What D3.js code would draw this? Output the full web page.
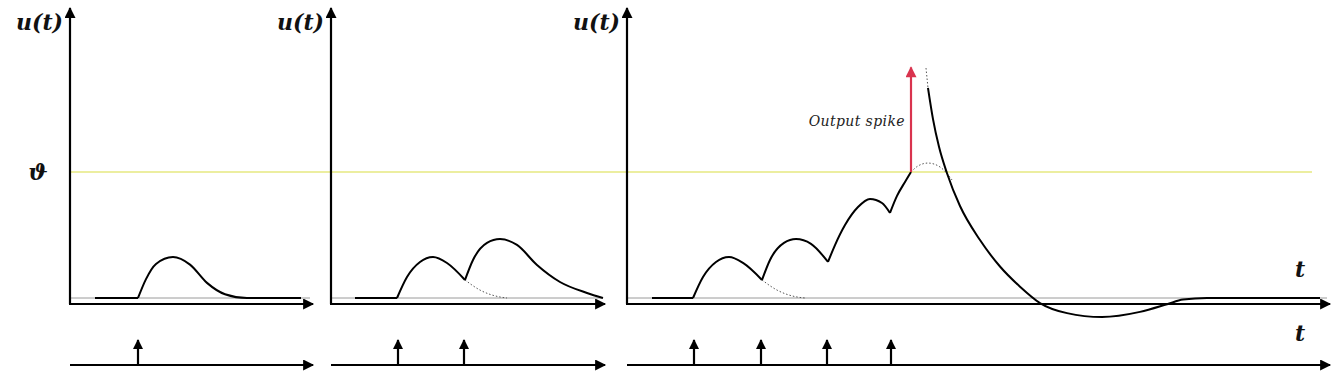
<!DOCTYPE html>
<html><head><meta charset="utf-8">
<script src="https://cdn.jsdelivr.net/npm/d3@7/dist/d3.min.js"></script>
<style>body{margin:0;background:#fff}svg{display:block}</style>
</head><body>
<svg id="c" width="1332" height="378"></svg>
<script>
// ---------- data (time in ms, potential in units of threshold) ----------
const panelNames = ["single", "double", "fire"];
const panelTmax = [24.3, 27.4, 70.3];
const threshold = 1.0;
const spikeTop = 1.83;
const inputSpikes1 = [6.8];
const inputSpikes2 = [6.7, 13.3];
const inputSpikes3 = [6.7, 13.4, 20.0, 26.4];

// panel 1 trace segments
const p1Rest = [[2.5,0],[6.8,0]];
const p1Bump = [[6.8,0],[7.6,0.15],[8.6,0.27],[10.3,0.325],[12.0,0.265],[13.7,0.12],[15.5,0.03],[17.7,0],[23.1,0]];
// panel 2
const p2Rest = [[2.4,0],[6.6,0]];
const p2Bump1 = [[6.6,0],[7.6,0.167],[8.9,0.286],[10.2,0.325],[11.6,0.278],[13.4,0.143]];
const p2Bump2 = [[13.4,0.143],[14.2,0.302],[15.6,0.437],[16.9,0.468],[18.6,0.421],[20.6,0.262],[22.9,0.127],[25.6,0.04],[27.2,0]];
const p2Ghost = [[13.4,0.143],[14.9,0.063],[16.9,0.008],[17.6,0]];
// panel 3
const p3Rest = [[2.5,0],[6.6,0]];
const p3Bump1 = [[6.6,0],[7.6,0.167],[8.9,0.286],[10.2,0.325],[11.6,0.278],[13.5,0.143]];
const p3Bump2 = [[13.5,0.143],[14.3,0.302],[15.7,0.437],[16.9,0.468],[18.4,0.43],[20.1,0.286]];
const p3Bump3 = [[20.1,0.286],[20.8,0.42],[21.8,0.579],[23.1,0.722],[24.3,0.786],[25.5,0.754],[26.3,0.675]];
const p3Bump4 = [[26.3,0.675],[27.0,0.81],[27.8,0.921],[28.4,1.0]];
const p3Ghost1 = [[13.5,0.143],[15.0,0.063],[17.0,0.008],[17.8,0]];
const p3Ghost2 = [[28.4,1.0],[29.1,1.048],[30.1,1.071],[31.3,1.04],[32.5,0.937]];
const p3GhostTop = [[29.9,1.825],[30.1,1.667]];
const p3Reset = [[30.1,1.667],[30.6,1.42],[31.2,1.2],[32.0,0.99],[33.3,0.73],[35.3,0.46],[37.3,0.25],[39.3,0.09],[41.3,-0.04],[44.0,-0.12],[47.5,-0.151],[51.3,-0.11],[54.0,-0.05],[55.6,-0.012],[58.0,0],[69.3,0]];
const outputSpikeT = 28.4;

const labels = {u: "u(t)", theta: "ϑ", t: "t", spike: "Output spike"};

// ---------- layout ----------
const svg = d3.select("#c");
const origins = [70, 331, 627];
const pxPerMs = 10;
const yScale = d3.scaleLinear().domain([0, threshold]).range([298, 172]);
const axisY = 304, axisTop = 8;
const trainY = 365;

const defs = svg.append("defs");
function marker(id, color, w, h){
  defs.append("marker").attr("id", id).attr("viewBox","0 0 10 10")
    .attr("refX", 9).attr("refY", 5).attr("markerWidth", w).attr("markerHeight", h)
    .attr("markerUnits","userSpaceOnUse").attr("orient","auto")
    .append("path").attr("d","M0,0L10,5L0,10Z").attr("fill", color);
}
marker("ah", "#000", 13, 11);
marker("ahs", "#000", 11, 10);
marker("ahr", "#d9334e", 12, 11);

// threshold line
svg.append("line").attr("x1", origins[0]).attr("x2", 1312)
  .attr("y1", yScale(threshold)).attr("y2", yScale(threshold))
  .attr("stroke", "#eceea0").attr("stroke-width", 2.2);

const traces = [
  {solid:[p1Rest, p1Bump], ghost:[]},
  {solid:[p2Rest, p2Bump1, p2Bump2], ghost:[p2Ghost]},
  {solid:[p3Rest, p3Bump1, p3Bump2, p3Bump3, p3Bump4, p3Reset], ghost:[p3Ghost1, p3Ghost2, p3GhostTop]}
];
const inputs = [inputSpikes1, inputSpikes2, inputSpikes3];
const serif = "'DejaVu Serif', serif";

panelNames.forEach((name, i) => {
  const x0 = origins[i];
  const tmax = panelTmax[i];
  const x = d3.scaleLinear().domain([0, tmax]).range([x0, x0 + tmax*pxPerMs]);
  const g = svg.append("g").attr("class", "panel-" + name);
  const line = d3.line().x(d => x(d[0])).y(d => yScale(d[1])).curve(d3.curveMonotoneX);

  // thin rest baseline
  g.append("line").attr("x1", x(0)).attr("x2", x(tmax) - 3)
    .attr("y1", yScale(0)).attr("y2", yScale(0)).attr("stroke", "#9a9a9a").attr("stroke-width", 1);

  // axes
  g.append("line").attr("x1", x(0)).attr("x2", x(0)).attr("y1", axisY).attr("y2", axisTop)
    .attr("stroke", "#000").attr("stroke-width", 2.2).attr("marker-end", "url(#ah)");
  g.append("line").attr("x1", x(0) - 1).attr("x2", x(tmax)).attr("y1", axisY).attr("y2", axisY)
    .attr("stroke", "#000").attr("stroke-width", 2.2).attr("marker-end", "url(#ah)");

  // ghost (dotted) continuations
  traces[i].ghost.forEach(seg => g.append("path").attr("d", line(seg)).attr("fill","none")
    .attr("stroke", "#555").attr("stroke-width", 1).attr("stroke-dasharray", "1.5,2"));
  // membrane potential
  traces[i].solid.forEach(seg => g.append("path").attr("d", line(seg)).attr("fill","none")
    .attr("stroke", "#000").attr("stroke-width", 2).attr("stroke-linejoin","round"));

  // u(t) label
  g.append("text").attr("x", x(0) - 7).attr("y", 30).attr("text-anchor", "end")
    .attr("font-family", serif).attr("font-style", "italic").attr("font-weight", "bold")
    .attr("font-size", 22).attr("fill", "#111").text(labels.u);

  // input spike train
  g.append("line").attr("x1", x(0)).attr("x2", x(tmax)).attr("y1", trainY).attr("y2", trainY)
    .attr("stroke", "#000").attr("stroke-width", 2.2).attr("marker-end", "url(#ah)");
  inputs[i].forEach(t => g.append("line").attr("x1", x(t)).attr("x2", x(t))
    .attr("y1", trainY).attr("y2", 340).attr("stroke", "#000").attr("stroke-width", 2.2)
    .attr("marker-end", "url(#ahs)"));

  if (i === 2) {
    g.append("line").attr("x1", x(outputSpikeT)).attr("x2", x(outputSpikeT))
      .attr("y1", yScale(threshold)).attr("y2", yScale(spikeTop))
      .attr("stroke", "#d9334e").attr("stroke-width", 2.2).attr("marker-end", "url(#ahr)");
    g.append("text").attr("x", x(outputSpikeT) - 6).attr("y", 126).attr("text-anchor", "end")
      .attr("font-family", serif).attr("font-style", "italic").attr("font-size", 14)
      .attr("letter-spacing", 0.4).attr("fill", "#222").text(labels.spike);
  }
});

// theta label
svg.append("text").attr("x", 38).attr("y", yScale(threshold) + 8).attr("text-anchor", "middle")
  .attr("font-family", serif).attr("font-style", "italic").attr("font-weight", "bold")
  .attr("font-size", 23).attr("fill", "#111").text(labels.theta);
// t labels
[277, 341].forEach(y => svg.append("text").attr("x", 1300).attr("y", y).attr("text-anchor", "middle")
  .attr("font-family", serif).attr("font-style", "italic").attr("font-weight", "bold")
  .attr("font-size", 22).attr("fill", "#111").text(labels.t));
</script>
</body></html>
